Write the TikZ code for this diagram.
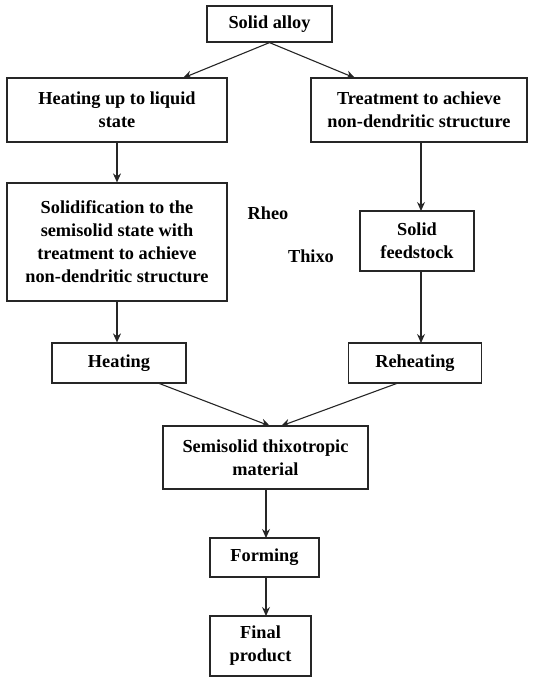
\documentclass[tikz,border=0pt]{standalone}
\usepackage{fontspec}
\setmainfont{Liberation Serif}
\usetikzlibrary{arrows.meta}
\begin{document}
\begin{tikzpicture}[x=1pt,y=-1pt,
  box/.style={draw=black!85,line width=1.2pt,fill=white,align=center,inner sep=0pt,
    font=\fontsize{18.3}{23}\selectfont\bfseries},
  lbl/.style={font=\fontsize{18.3}{23}\selectfont\bfseries,inner sep=0pt},
  arr/.style={draw=black!85,line width=1.1pt,-{Stealth[length=9pt,width=8pt]}}]
\useasboundingbox (0,0) rectangle (536,678);
% boxes (centre, width, height)
\node[box,minimum width=125,minimum height=36] (alloy) at (269.5,24) {Solid alloy};
\node[box,minimum width=220,minimum height=64] (liquid) at (117,110) {Heating up to liquid\\state};
\node[box,minimum width=216,minimum height=64] (treat) at (419,110) {Treatment to achieve\\non-dendritic structure};
\node[box,minimum width=220,minimum height=118] (solidif) at (117,242) {Solidification to the\\semisolid state with\\treatment to achieve\\non-dendritic structure};
\node[box,minimum width=114,minimum height=60] (feed) at (417,241) {Solid\\feedstock};
\node[box,minimum width=134,minimum height=40] (heat) at (119,363) {Heating};
\node[box,minimum width=133,minimum height=40] (reheat) at (415,363) {Reheating};
\node[box,minimum width=205,minimum height=63] (semi) at (265.5,457.5) {Semisolid thixotropic\\material};
\node[box,minimum width=109,minimum height=39] (form) at (264.5,557.5) {Forming};
\node[box,minimum width=101,minimum height=60] (final) at (260.5,646) {Final\\product};
% route labels
\node[lbl] (rheo) at (268,213) {Rheo};
\node[lbl] (thixo) at (311,256) {Thixo};
% connectors
\draw[arr] (alloy.south) -- (183,78);
\draw[arr] (alloy.south) -- (355,78);
\draw[arr] (liquid.south) -- (solidif.north);
\draw[arr] (solidif.south) -- (solidif.south |- heat.north);
\draw[arr] (421,142) -- (421,211);
\draw[arr] (421,271) -- (421,343);
\draw[arr] (158,383) -- (270,426);
\draw[arr] (398,383) -- (281,426);
\draw[arr] (266,489) -- (266,538);
\draw[arr] (266,577) -- (266,616);
\end{tikzpicture}
\end{document}
